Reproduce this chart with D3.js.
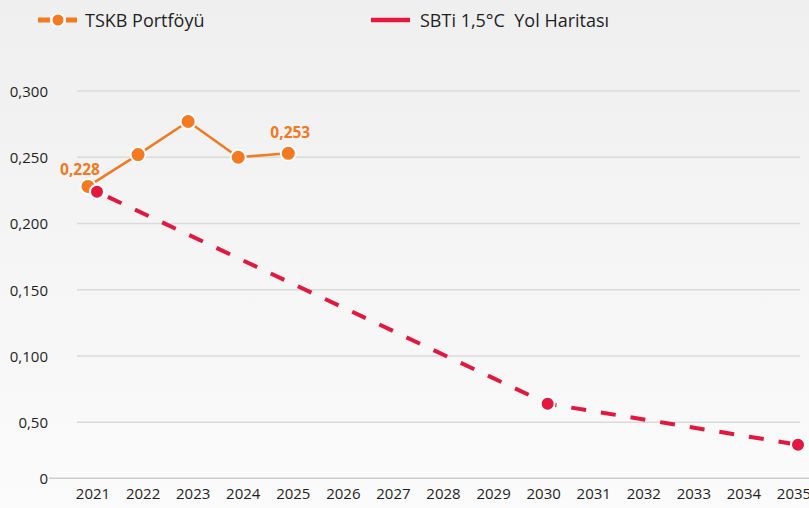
<!DOCTYPE html>
<html>
<head>
<meta charset="utf-8">
<script src="https://cdn.jsdelivr.net/npm/d3@7"></script>
<style>
  html, body { margin: 0; padding: 0; }
  body { width: 809px; height: 508px; overflow: hidden; }
  svg { display: block; font-family: "Open Sans", "Noto Sans", sans-serif; }
</style>
</head>
<body>
<svg id="chart" width="809" height="508"></svg>
<script>
// ---- data ----
const years = [2021, 2022, 2023, 2024, 2025, 2026, 2027, 2028, 2029, 2030, 2031, 2032, 2033, 2034, 2035];
const tskbYears = [2021, 2022, 2023, 2024, 2025];
const tskbValues = [0.228, 0.252, 0.277, 0.250, 0.253];
const sbtiYears = [2021, 2030, 2035];
const sbtiValues = [0.224, 0.064, 0.030];
const yTickValues = [0, 0.05, 0.10, 0.15, 0.20, 0.25, 0.30];
const yTickLabels = ["0", "0,50", "0,100", "0,150", "0,200", "0,250", "0,300"];
const labelledTskb = [{ year: 2021, text: "0,228" }, { year: 2025, text: "0,253" }];
const seriesNames = ["TSKB Portföyü", "SBTi 1,5°C  Yol Haritası"];

// ---- styles ----
const ORANGE = "#f47920";
const RED = "#e4173e";

const svg = d3.select("#chart");
const W = 809, H = 508;

const defs = svg.append("defs");
const grad = defs.append("linearGradient").attr("id", "bg").attr("x1", 0).attr("y1", 0).attr("x2", 0).attr("y2", 1);
grad.append("stop").attr("offset", "0%").attr("stop-color", "#efefef");
grad.append("stop").attr("offset", "100%").attr("stop-color", "#fbfbfb");
svg.append("rect").attr("width", W).attr("height", H).attr("fill", "url(#bg)");

const x = d3.scalePoint().domain(years).range([92.5, 793.5]);
const y = d3.scaleLinear().domain([0, 0.05, 0.3]).range([478.3, 422.3, 91]);

// gridlines
const grid = svg.append("g");
grid.selectAll("line.g")
  .data(yTickValues.filter(v => v > 0))
  .join("line")
  .attr("x1", 77).attr("x2", 800)
  .attr("y1", d => y(d)).attr("y2", d => y(d))
  .attr("stroke", "#dadada").attr("stroke-width", 1.6);
grid.append("line")
  .attr("x1", 49).attr("x2", W)
  .attr("y1", y(0)).attr("y2", y(0))
  .attr("stroke", "#cdcdcd").attr("stroke-width", 1.4);

// y axis labels
const yAxis = d3.axisLeft(y).tickValues(yTickValues)
  .tickFormat((d, i) => yTickLabels[i]).tickSize(0).tickPadding(0);
const yg = svg.append("g").attr("transform", "translate(48,0)").call(yAxis);
yg.select(".domain").remove();
yg.selectAll("text").attr("font-size", 15).attr("fill", "#1f1f1f")
  .attr("font-family", "'Open Sans', sans-serif").attr("dy", "0.36em");

// x axis labels
const xAxis = d3.axisBottom(x).tickSize(0).tickPadding(0).tickFormat(d3.format("d"));
const xg = svg.append("g").attr("transform", "translate(0,488)").call(xAxis);
xg.select(".domain").remove();
xg.selectAll("text").attr("font-size", 15).attr("fill", "#1f1f1f")
  .attr("font-family", "'Open Sans', sans-serif").attr("dy", "0.71em");

// SBTi dashed line
const sbti = sbtiYears.map((yr, i) => ({ year: yr, value: sbtiValues[i] }));
const tskb = tskbYears.map((yr, i) => ({ year: yr, value: tskbValues[i] }));
const sbtiDx = 4.5, tskbDx = -4.5;

svg.append("path")
  .datum(sbti)
  .attr("fill", "none").attr("stroke", RED).attr("stroke-width", 4)
  .attr("stroke-dasharray", "15,15").attr("stroke-dashoffset", -12)
  .attr("d", d3.line().x(d => x(d.year) + sbtiDx).y(d => y(d.value)));

// TSKB line
svg.append("path")
  .datum(tskb)
  .attr("fill", "none").attr("stroke", ORANGE).attr("stroke-width", 2.5)
  .attr("d", d3.line().x(d => x(d.year) + tskbDx).y(d => y(d.value)));

// TSKB markers
svg.append("g").selectAll("circle")
  .data(tskb).join("circle")
  .attr("cx", d => x(d.year) + tskbDx).attr("cy", d => y(d.value))
  .attr("r", 7.5).attr("fill", ORANGE).attr("stroke", "#fff").attr("stroke-width", 2);

// SBTi markers
svg.append("g").selectAll("circle")
  .data(sbti).join("circle")
  .attr("cx", d => x(d.year) + sbtiDx).attr("cy", d => y(d.value))
  .attr("r", 7).attr("fill", RED).attr("stroke", "#fff").attr("stroke-width", 2);

// data labels
const labelOffsets = { 2021: [-8, -11.5], 2025: [2, -15.5] };
svg.append("g").selectAll("text")
  .data(labelledTskb).join("text")
  .attr("x", d => x(d.year) + tskbDx + labelOffsets[d.year][0])
  .attr("y", d => y(tskbValues[tskbYears.indexOf(d.year)]) + labelOffsets[d.year][1])
  .attr("text-anchor", "middle")
  .attr("font-size", 15.5).attr("font-weight", 700).attr("fill", ORANGE)
  .text(d => d.text);

// legend
const lg = svg.append("g");
lg.append("line").attr("x1", 38).attr("x2", 50).attr("y1", 20).attr("y2", 20)
  .attr("stroke", ORANGE).attr("stroke-width", 5);
lg.append("line").attr("x1", 66).attr("x2", 77).attr("y1", 20).attr("y2", 20)
  .attr("stroke", ORANGE).attr("stroke-width", 5);
lg.append("circle").attr("cx", 58).attr("cy", 20).attr("r", 6.5)
  .attr("fill", ORANGE).attr("stroke", "#fff").attr("stroke-width", 2);
lg.append("text").attr("x", 85).attr("y", 26.5).attr("font-size", 18).attr("fill", "#1f1f1f")
  .text(seriesNames[0]);
lg.append("line").attr("x1", 371).attr("x2", 410).attr("y1", 20).attr("y2", 20)
  .attr("stroke", RED).attr("stroke-width", 4.3);
lg.append("text").attr("x", 420).attr("y", 26.5).attr("font-size", 18).attr("fill", "#1f1f1f")
  .attr("xml:space", "preserve").style("white-space", "pre")
  .text(seriesNames[1]);
</script>
</body>
</html>
